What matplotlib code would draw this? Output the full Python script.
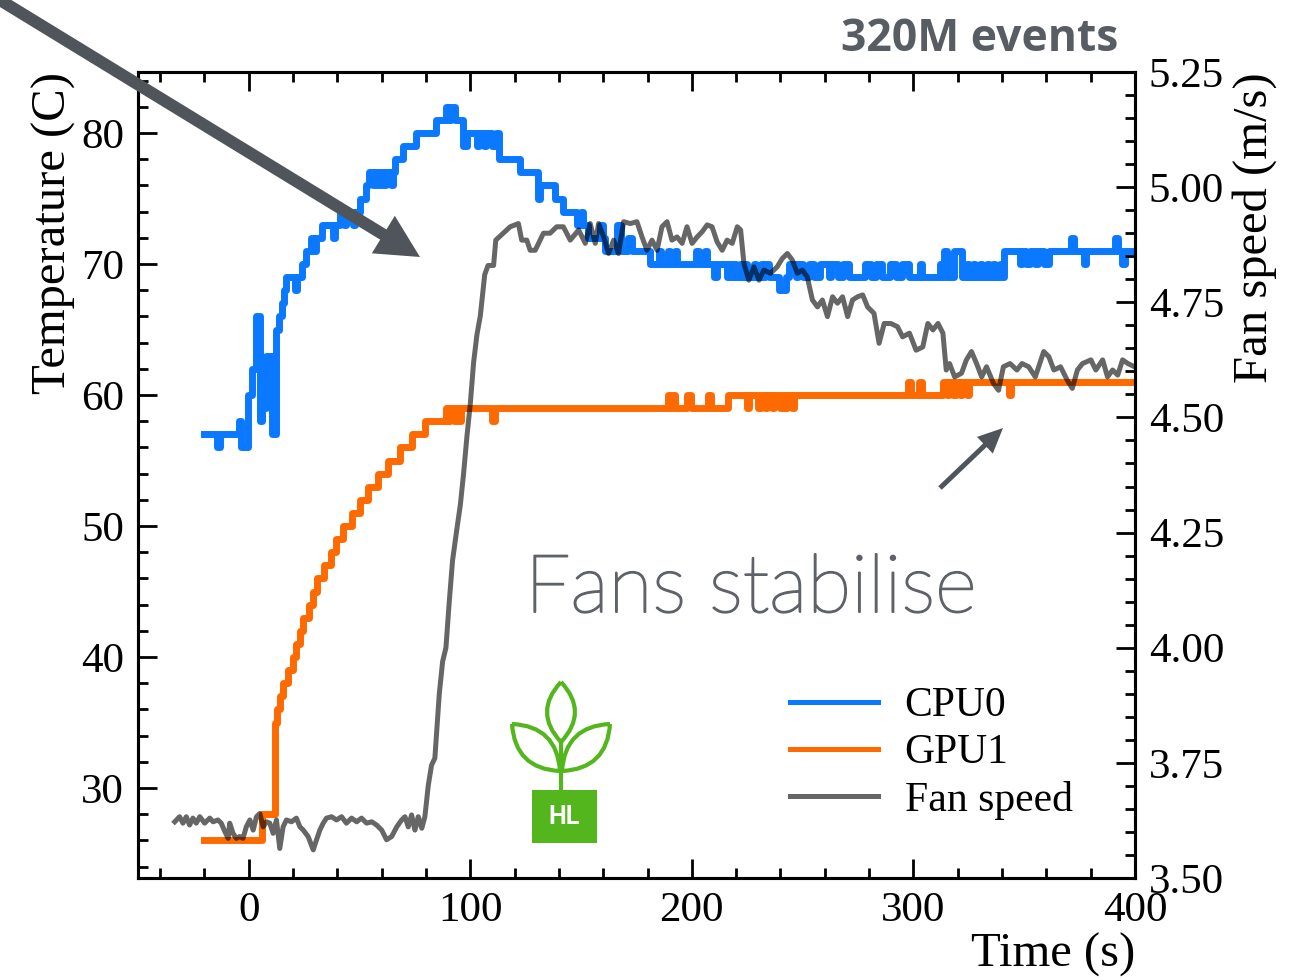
import matplotlib
matplotlib.use("Agg")
import matplotlib.pyplot as plt
import matplotlib.patheffects as pe
from matplotlib.patches import FancyArrow, Rectangle, PathPatch
from matplotlib.path import Path
from matplotlib.ticker import MultipleLocator

# CPU0 temperature (C): (time s, value held until the next step)
cpu_steps = [
    (-20, 57), (-14.5, 56), (-13, 57), (-4.5, 58), (-3.5, 56), (-0.5, 60), (1.5, 62),
    (3.5, 66), (5, 58), (6, 61), (7, 59), (8, 63), (10.5, 57), (12.5, 65), (13.5, 66),
    (15, 67), (16, 68), (17, 69), (21, 68), (22, 69), (24, 70), (26, 71), (28, 72),
    (29.5, 71), (30.5, 72), (33, 73), (38, 72), (39, 73), (41, 74), (43, 73), (44, 74),
    (47, 73), (48, 74), (50, 75), (53, 76), (54.5, 77), (56, 76), (57, 77), (58.5, 76),
    (59.5, 77), (61, 76), (62, 77), (64, 76), (65, 77), (66, 78), (69.5, 79), (75.5, 80),
    (84.5, 81), (89, 82), (90.5, 81), (91.5, 82), (93, 81), (96.5, 79), (98.5, 80),
    (103, 79), (104, 80), (106, 79), (107, 80), (110, 79), (111.5, 80), (113, 78),
    (122.5, 77), (130.5, 75), (131.5, 76), (138, 75), (142, 74), (148, 73), (150, 74),
    (151, 73), (153, 72), (158.5, 73), (160, 72), (161, 71), (166, 73), (168, 71),
    (171, 72), (173, 71), (181, 70), (185, 71), (186, 70), (189, 71), (190, 70),
    (192.5, 71), (193.5, 70), (202, 71), (203, 70), (206, 71), (207, 70), (210, 69),
    (211.5, 70), (216, 69), (217, 70), (218, 69), (219, 70), (220, 69), (221.5, 70),
    (222.5, 69), (224, 70), (225, 69), (228, 70), (229, 69), (231, 70), (232, 69),
    (233, 70), (235, 69), (239.5, 68), (242.5, 69), (244, 70), (247, 69), (248, 70),
    (250, 69), (253, 70), (255, 69), (258, 70), (262, 69), (263, 70), (266, 69),
    (268, 70), (271, 69), (278, 70), (281, 69), (283, 70), (286, 69), (289.5, 70),
    (292, 69), (295, 70), (298, 69), (303, 70), (304, 69), (312, 70), (313, 69),
    (314, 71), (315, 69), (318.5, 71), (322, 69), (324, 70), (325, 69), (327, 70),
    (328, 69), (330, 70), (331, 69), (333, 70), (334, 69), (336, 70), (337, 69),
    (339, 70), (340, 69), (341, 71), (348, 70), (349, 71), (351, 70), (352.5, 71),
    (355, 70), (356, 71), (359, 70), (361, 71), (371, 72), (372.5, 71), (377, 70),
    (378, 71), (391, 72), (392.5, 71), (394, 70), (395.5, 71), (400, 71),
]

# GPU1 temperature (C)
gpu_steps = [
    (-20, 26), (6, 28), (12, 35), (12.8, 36), (14, 37), (15.5, 38), (17.5, 39), (20, 40),
    (21.5, 41), (23, 42), (24.7, 43), (27, 44), (29, 45), (31, 46), (34, 47), (37, 48),
    (39.6, 49), (42.6, 50), (46.4, 51), (50, 52), (54, 53), (58.5, 54), (63, 55),
    (68.3, 56), (73.5, 57), (79.5, 58), (89, 59), (90, 58), (91, 59), (92.5, 58),
    (93.5, 59), (95, 58), (96, 59), (110, 58), (111, 59), (189, 60), (190, 59),
    (191.5, 60), (192.5, 59), (198, 60), (199.5, 59), (207.5, 60), (208.5, 59),
    (216.5, 60), (225, 59), (226, 60), (230, 59), (231, 60), (233, 59), (234, 60),
    (236, 59), (237, 60), (240, 59), (241, 60), (242, 59), (243, 60), (245, 59),
    (246, 60), (297.5, 61), (299, 60), (302.5, 61), (304, 60), (313.5, 61), (315, 60),
    (316, 61), (318, 60), (319, 61), (321, 60), (322, 61), (324, 60), (325, 61),
    (343, 60), (344, 61), (400, 61),
]

# Fan speed (m/s)
fan_points = [
    (-33.4, 3.622), (-31.2, 3.633), (-29.7, 3.619), (-28.2, 3.633), (-26.7, 3.615),
    (-25.2, 3.630), (-23.7, 3.619), (-22.1, 3.633), (-19.9, 3.619), (-17.6, 3.630),
    (-16.1, 3.622), (-13.9, 3.626), (-12.4, 3.619), (-10.8, 3.601), (-9.3, 3.586),
    (-8.6, 3.619), (-7.1, 3.597), (-5.6, 3.586), (-4.1, 3.590), (-2.6, 3.586),
    (-1.1, 3.611), (0.5, 3.626), (2.0, 3.604), (3.5, 3.633), (5.0, 3.640), (6.5, 3.611),
    (8.0, 3.622), (9.5, 3.619), (11.0, 3.597), (12.5, 3.626), (14.0, 3.564), (15.5, 3.611),
    (17.0, 3.626), (19.3, 3.622), (21.5, 3.630), (23.1, 3.611), (24.6, 3.604),
    (26.8, 3.590), (29.1, 3.561), (30.6, 3.583), (32.1, 3.604), (33.6, 3.619),
    (35.1, 3.630), (37.4, 3.633), (39.6, 3.626), (41.9, 3.633), (44.1, 3.619),
    (46.4, 3.630), (48.7, 3.622), (50.9, 3.630), (53.2, 3.619), (55.5, 3.622),
    (57.7, 3.615), (60.0, 3.604), (62.2, 3.583), (64.5, 3.590), (66.8, 3.611),
    (69.0, 3.626), (70.5, 3.633), (72.0, 3.611), (73.5, 3.637), (75.0, 3.604),
    (76.5, 3.633), (78.1, 3.608), (79.5, 3.633), (81.0, 3.700), (82.5, 3.745),
    (84.0, 3.760), (86.0, 3.900), (87.5, 3.970), (89.0, 4.000), (90.5, 4.100),
    (92.0, 4.190), (94.0, 4.260), (95.5, 4.310), (97.0, 4.380), (98.5, 4.460),
    (100.0, 4.530), (101.5, 4.620), (103.0, 4.680), (104.5, 4.720), (106.5, 4.810),
    (108.0, 4.830), (110.5, 4.830), (111.5, 4.885), (118.0, 4.914), (121.7, 4.921),
    (123.2, 4.885), (125.5, 4.885), (127.0, 4.863), (129.3, 4.863), (133.0, 4.900),
    (136.0, 4.900), (139.0, 4.914), (142.0, 4.914), (145.1, 4.885), (148.9, 4.907),
    (151.9, 4.878), (154.1, 4.921), (156.4, 4.878), (157.9, 4.921), (160.2, 4.892),
    (162.4, 4.856), (164.7, 4.885), (166.9, 4.856), (169.2, 4.925), (172.2, 4.921),
    (175.2, 4.925), (177.5, 4.892), (179.7, 4.863), (182.0, 4.885), (184.3, 4.863),
    (186.5, 4.914), (188.8, 4.925), (191.0, 4.885), (193.3, 4.892), (195.6, 4.878),
    (197.8, 4.914), (200.1, 4.878), (202.4, 4.892), (204.6, 4.903), (206.9, 4.918),
    (209.1, 4.914), (211.4, 4.881), (213.7, 4.863), (215.9, 4.885), (218.2, 4.878),
    (220.5, 4.914), (222.0, 4.907), (223.5, 4.834), (225.7, 4.798), (228.0, 4.827),
    (230.3, 4.798), (232.5, 4.820), (235.5, 4.813), (238.5, 4.827), (240.8, 4.845),
    (243.1, 4.856), (245.3, 4.842), (247.6, 4.813), (249.9, 4.820), (252.1, 4.805),
    (254.4, 4.755), (256.7, 4.740), (258.9, 4.755), (261.2, 4.719), (263.5, 4.762),
    (265.7, 4.748), (268.0, 4.762), (270.3, 4.719), (272.5, 4.755), (274.8, 4.762),
    (277.1, 4.766), (279.3, 4.740), (282.2, 4.726), (284.5, 4.661), (286.8, 4.704),
    (289.8, 4.704), (292.8, 4.697), (295.1, 4.675), (298.2, 4.683), (301.2, 4.646),
    (304.2, 4.653), (306.5, 4.704), (308.8, 4.690), (311.1, 4.704), (313.3, 4.683),
    (314.8, 4.603), (316.3, 4.617), (318.6, 4.588), (321.7, 4.596), (323.9, 4.625),
    (326.2, 4.643), (328.5, 4.617), (330.8, 4.588), (333.0, 4.610), (336.1, 4.574),
    (338.4, 4.559), (340.6, 4.610), (343.6, 4.617), (346.7, 4.603), (349.0, 4.617),
    (352.0, 4.610), (355.0, 4.588), (358.8, 4.643), (361.1, 4.632), (363.4, 4.603),
    (366.4, 4.610), (369.4, 4.581), (371.7, 4.563), (374.0, 4.603), (376.3, 4.617),
    (380.1, 4.625), (382.3, 4.603), (385.4, 4.625), (387.6, 4.588), (389.9, 4.603),
    (392.2, 4.592), (394.4, 4.625), (396.8, 4.617), (399.8, 4.610),
]

BLUE = "#0a78ff"
ORANGE = "#ff6a00"
DARK = "#50555c"
GREEN = "#52b61c"

plt.rcParams["font.family"] = "serif"
plt.rcParams["font.serif"] = ["Liberation Serif", "DejaVu Serif"]
plt.rcParams["axes.linewidth"] = 2.2

fig = plt.figure(figsize=(13.04, 9.8), dpi=100)
ax = fig.add_axes([0.1058, 0.1041, 0.7646, 0.8224])

cpu_t, cpu_v = zip(*cpu_steps)
gpu_t, gpu_v = zip(*gpu_steps)
fan_t, fan_v = zip(*fan_points)

l1, = ax.plot(cpu_t, cpu_v, drawstyle="steps-post", color=BLUE, lw=5.0, label="CPU0")
l2, = ax.plot(gpu_t, gpu_v, drawstyle="steps-post", color=ORANGE, lw=5.0, label="GPU1")
ax.set_xlim(-50, 400)
ax.set_ylim(23.13, 84.66)

ax2 = ax.twinx()
l3, = ax2.plot(fan_t, fan_v, color="black", alpha=0.6, lw=3.6, label="Fan speed")
ax2.set_ylim(3.5, 5.25)

ax.xaxis.set_major_locator(MultipleLocator(100))
ax.xaxis.set_minor_locator(MultipleLocator(20))
ax.yaxis.set_major_locator(MultipleLocator(10))
ax.yaxis.set_minor_locator(MultipleLocator(2))
ax2.yaxis.set_major_locator(MultipleLocator(0.25))
ax2.yaxis.set_minor_locator(MultipleLocator(0.05))
ax2.yaxis.set_major_formatter(plt.FormatStrFormatter("%.2f"))

for a in (ax, ax2):
    a.tick_params(which="both", direction="in", width=2, labelsize=31, pad=10)
    a.tick_params(which="major", length=14)
    a.tick_params(which="minor", length=7)
ax.tick_params(which="both", top=True, right=False)

ax.set_xlabel("Time (s)", fontsize=35, loc="right", labelpad=2)
ax.set_ylabel("Temperature (C)", fontsize=35, loc="top", labelpad=4)
ax2.set_ylabel("Fan speed (m/s)", fontsize=35, loc="top", labelpad=6)

leg = ax2.legend([l1, l2, l3], ["CPU0", "GPU1", "Fan speed"], loc="upper left",
                 bbox_to_anchor=(0.654, 0.237), frameon=False, fontsize=30,
                 handlelength=2.1, handletextpad=0.65, labelspacing=0.2,
                 borderpad=0, borderaxespad=0)
for h in leg.legend_handles:
    h.set_linewidth(3.6)

# overlay in pixel coordinates for annotations and logo
ov = fig.add_axes([0, 0, 1, 1])
ov.set_xlim(0, 1304)
ov.set_ylim(980, 0)
ov.axis("off")
ov.patch.set_alpha(0)

ov.add_patch(FancyArrow(-5, -3, 425, 260, width=12, head_width=44, head_length=43,
                        length_includes_head=True, color=DARK, lw=0))
ov.add_patch(FancyArrow(940, 488, 63, -60, width=5, head_width=23, head_length=25,
                        length_includes_head=True, color=DARK, lw=0))

ov.text(1118, 51, "320M events", ha="right", va="baseline", fontsize=32,
        fontweight="bold", family="Open Sans", color="#585c63")
caption_color = "#5f6369"
ov.text(525, 612, "Fans stabilise", ha="left", va="baseline", fontsize=58,
        fontweight="light", family="Lato", color=caption_color,
        path_effects=[pe.withStroke(linewidth=1.4, foreground=caption_color)])


def lens(p0, p1, half):
    # pointed leaf between two tips, bulging by `half` pixels on each side
    mx, my = (p0[0] + p1[0]) / 2, (p0[1] + p1[1]) / 2
    dx, dy = p1[0] - p0[0], p1[1] - p0[1]
    n = (dx * dx + dy * dy) ** 0.5
    nx, ny = -dy / n * 2 * half, dx / n * 2 * half
    verts = [p0, (mx + nx, my + ny), p1, (mx - nx, my - ny), p0]
    codes = [Path.MOVETO, Path.CURVE3, Path.CURVE3, Path.CURVE3, Path.CURVE3]
    return PathPatch(Path(verts, codes), fill=False, ec=GREEN, lw=3)


ov.add_patch(lens((561, 682), (561, 742), 14))
ov.add_patch(lens((512, 724), (560, 771), 15))
ov.add_patch(lens((610, 724), (562, 771), 15))
ov.plot([561, 561], [742, 790], color=GREEN, lw=3, solid_capstyle="butt")
ov.add_patch(Rectangle((532, 790), 65, 53, color=GREEN, lw=0))
ov.text(564.5, 817, "HL", ha="center", va="center", fontsize=18, fontweight="bold",
        family="Roboto", color="white")

fig.savefig("out.png", dpi=100)
